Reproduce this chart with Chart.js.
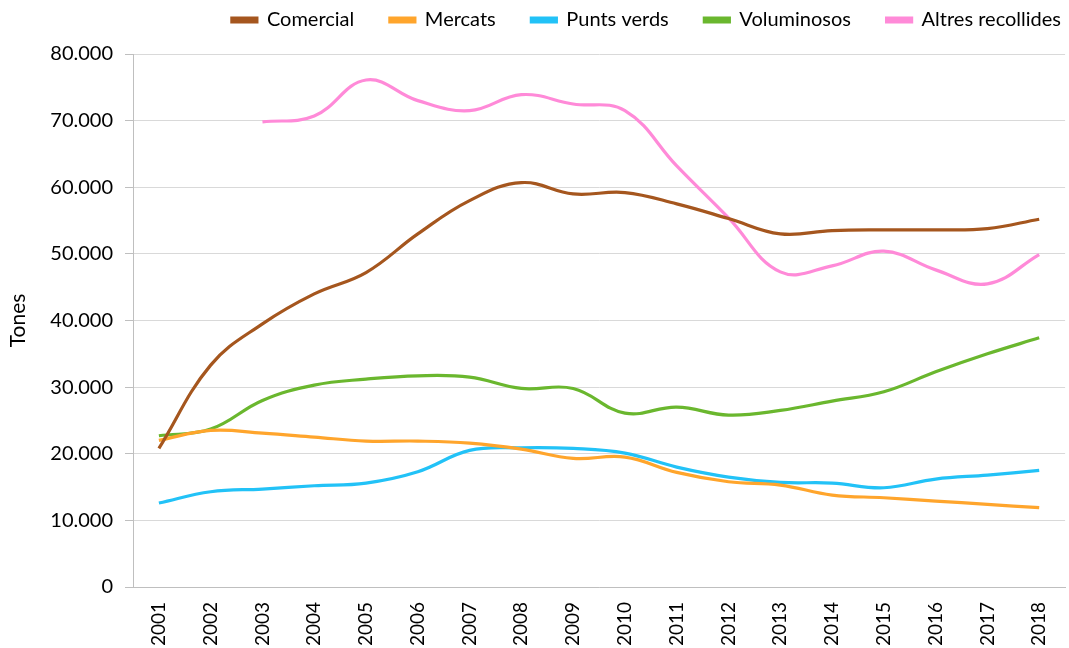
<!DOCTYPE html>
<html>
<head>
<meta charset="utf-8">
<script src="https://cdn.jsdelivr.net/npm/chart.js@4.4.1/dist/chart.umd.min.js"></script>
<style>
  html, body { margin: 0; padding: 0; background: #fff; overflow: hidden; }
  #wrap { width: 1069px; height: 648px; position: relative; }
</style>
</head>
<body>
<div id="wrap"><canvas id="chart"></canvas></div>
<script>
const years = ["2001", "2002", "2003", "2004", "2005", "2006", "2007", "2008", "2009",
  "2010", "2011", "2012", "2013", "2014", "2015", "2016", "2017", "2018"];

const comercial = [20800, 33300, 39500, 44000, 47200, 53000, 58000, 60700, 59000,
  59200, 57500, 55300, 53000, 53500, 53600, 53600, 53800, 55200];
const mercats = [22000, 23500, 23100, 22500, 21900, 21900, 21600, 20700, 19300,
  19500, 17200, 15800, 15300, 13800, 13400, 12900, 12400, 11900];
const puntsVerds = [12600, 14300, 14700, 15200, 15600, 17300, 20500, 20900, 20800,
  20100, 18000, 16500, 15700, 15600, 14900, 16200, 16800, 17500];
const voluminosos = [22700, 23700, 28000, 30300, 31200, 31700, 31500, 29800, 29800,
  26100, 27000, 25800, 26500, 27900, 29300, 32300, 35000, 37400];
const altres = [null, null, 69800, 70700, 76100, 73000, 71500, 73900, 72500,
  71500, 63200, 55400, 47300, 48200, 50400, 47600, 45500, 49900];

const seriesNames = ["Comercial", "Mercats", "Punts verds", "Voluminosos", "Altres recollides"];
const seriesColors = ["#A5561E", "#FFA52C", "#22C2F7", "#6AB72E", "#FF8AD8"];
const seriesData = [comercial, mercats, puntsVerds, voluminosos, altres];

const FONT = "Lato, 'Open Sans', sans-serif";

function fmt(v) {
  return String(v).replace(/\B(?=(\d{3})+(?!\d))/g, ".");
}

// leave a gap between the legend and the top of the plot
const legendGap = {
  id: "legendGap",
  beforeLayout(chart) {
    const lg = chart.legend;
    if (!lg || lg._patched) return;
    const fit = lg.fit;
    lg.fit = function () {
      fit.call(this);
      this.height += 14;
    };
    lg._patched = true;
  },
};

new Chart(document.getElementById("chart"), {
  type: "line",
  data: {
    labels: years,
    datasets: seriesNames.map((name, i) => ({
      label: name,
      data: seriesData[i],
      borderColor: seriesColors[i],
      backgroundColor: seriesColors[i],
      borderWidth: 3.2,
      pointRadius: 0,
      tension: 0.4,
    })),
  },
  options: {
    responsive: true,
    maintainAspectRatio: false,
    animation: false,
    layout: { padding: { left: 0, right: -2, top: 0, bottom: 0 } },
    plugins: {
      legend: {
        position: "top",
        align: "end",
        labels: {
          boxWidth: 25,
          boxHeight: 4,
          padding: 10,
          color: "#000",
          font: { family: FONT, size: 20 },
          generateLabels: (chart) => {
            const items = Chart.defaults.plugins.legend.labels.generateLabels(chart);
            // wider gaps between entries without raising the legend's vertical padding
            items.forEach((it, i) => {
              if (i < items.length - 1) it.text += "     ";
            });
            return items;
          },
        },
      },
      tooltip: { enabled: false },
    },
    scales: {
      x: {
        offset: true,
        grid: { display: false },
        border: { display: true, color: "#bfbfbf", width: 1 },
        ticks: {
          color: "#000",
          font: { family: FONT, size: 19 },
          minRotation: 90,
          maxRotation: 90,
          padding: 7,
        },
        afterFit: (s) => { s.height = 61; },
      },
      y: {
        min: 0,
        max: 80000,
        grid: { color: "#d9d9d9", tickColor: "#bfbfbf", tickLength: 8 },
        border: { display: true, color: "#bfbfbf", width: 1 },
        ticks: {
          stepSize: 10000,
          color: "#000",
          padding: 12,
          font: { family: FONT, size: 20 },
          callback: (v) => fmt(v),
        },
        title: {
          display: true,
          text: "Tones",
          color: "#000",
          font: { family: FONT, size: 21 },
          padding: { top: 6, bottom: 0 },
        },
        afterFit: (s) => { s.width = 133; },
      },
    },
  },
  plugins: [legendGap],
});
</script>
</body>
</html>
